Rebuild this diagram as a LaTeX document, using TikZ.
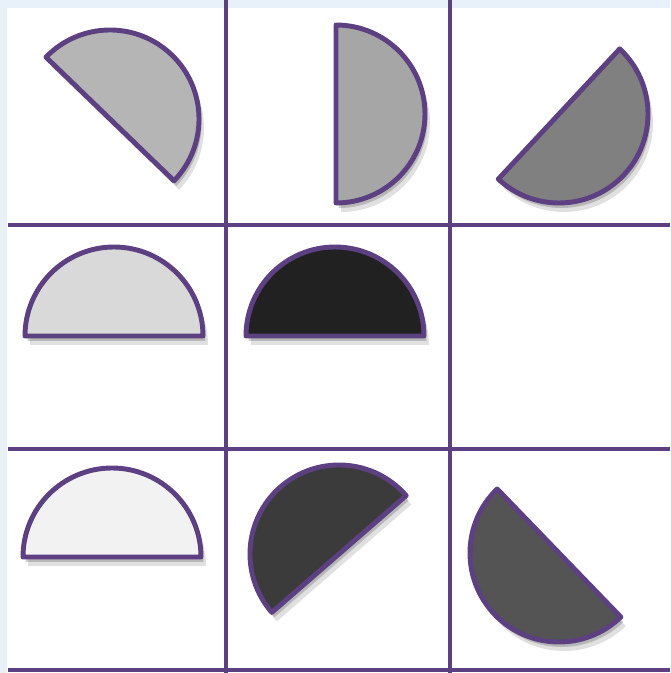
\documentclass[tikz,border=0pt]{standalone}
\usepackage{xcolor}
\usepackage{tikz}
\usetikzlibrary{shadows}

\definecolor{gridpurple}{RGB}{92,64,130}
\definecolor{edgeblue}{RGB}{232,240,250}

\begin{document}
\begin{tikzpicture}[
  x=0.02cm, y=0.02cm,
  gridline/.style={draw=gridpurple, line width=2.3pt},
  half/.style={draw=gridpurple, line width=2.8pt, line join=round,
    drop shadow={shadow xshift=0.10cm, shadow yshift=-0.18cm, opacity=0.12, fill=black},
    drop shadow={shadow xshift=0.05cm, shadow yshift=-0.10cm, opacity=0.18, fill=black}}
]
\useasboundingbox (0,0) rectangle (670,673);
\fill[white] (0,0) rectangle (670,673);
% pale frame on the left and top
\fill[edgeblue] (0,0) rectangle (7,673);
\fill[edgeblue] (0,665) rectangle (670,673);

% grid
\draw[gridline] (226,0) -- (226,673);
\draw[gridline] (450,0) -- (450,673);
\draw[gridline] (8,448) -- (670,448);
\draw[gridline] (8,224) -- (670,224);
\draw[gridline] (8,3) -- (670,3);

% half discs: centre / bulge direction / grey level
\foreach \cx/\cy/\ang/\shade in {110/554/46/29, 336/559/0/35, 559/559/-43/50,
                                 114/337/90/15, 335/337/90/87,
                                 112/116/90/5, 339/119/131/77, 559/120/-136/67}
  \path[half, fill=black!\shade] (\cx,\cy) ++(\ang-90:89)
    arc[start angle=\ang-90, end angle=\ang+90, radius=89] -- cycle;
\end{tikzpicture}
\end{document}
